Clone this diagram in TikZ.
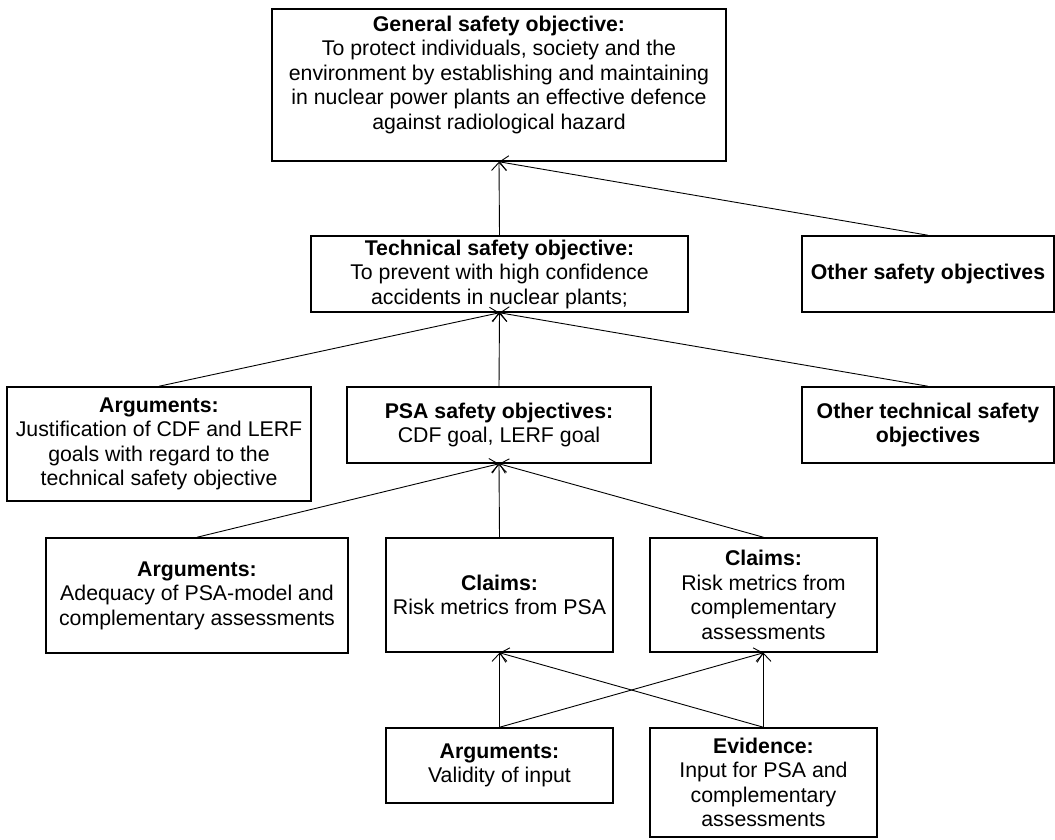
\documentclass[tikz,border=0pt]{standalone}
\usepackage{fontspec}
\setmainfont{Liberation Sans}
\usetikzlibrary{arrows.meta,positioning}
\tikzstyle{sb}=[draw=black,line width=1.5pt,align=center,inner sep=0pt,
  font=\fontsize{21.3pt}{24.5pt}\selectfont]
\tikzstyle{ar}=[line width=0.9pt,-{Straight Barb[length=8pt,width=15pt,line width=0.9pt]}]

\begin{document}
\begin{tikzpicture}[x=1pt,y=-1pt]
  \useasboundingbox (0,0) rectangle (1055,839);
     % objectives
     \node [sb, minimum width=454pt, minimum height=152pt] (gen) at (499,85)
       {\textbf{General safety objective:}\\To protect individuals, society and the\\environment by establishing and maintaining\\in nuclear power plants an effective defence\\against radiological hazard\\ ~};
     \node [sb, minimum width=377pt, minimum height=76pt] (tech) at (499.5,274)
       {\textbf{Technical safety objective:}\\To prevent with high confidence\\accidents in nuclear plants;};
     \node [sb, minimum width=252pt, minimum height=76pt] (oso) at (928,274)
       {\textbf{Other safety objectives}};
     \node [sb, minimum width=304pt, minimum height=114pt] (arg1) at (159,444)
       {\textbf{Arguments:}\\Justification of CDF and LERF\\goals with regard to the\\technical safety objective};
     \node [sb, minimum width=304pt, minimum height=76pt] (psa) at (499,425)
       {\textbf{PSA safety objectives:}\\CDF goal, LERF goal};
     \node [sb, minimum width=252pt, minimum height=76pt] (otso) at (928,425)
       {\textbf{Other technical safety}\\\textbf{objectives}};
     % claims
     \node [sb, minimum width=302pt, minimum height=115pt] (arg2) at (197,595.5)
       {\textbf{Arguments:}\\Adequacy of PSA-model and\\complementary assessments};
     \node [sb, minimum width=227pt, minimum height=114pt] (clpsa) at (499.5,595)
       {\textbf{Claims:}\\Risk metrics from PSA};
     \node [sb, minimum width=227pt, minimum height=114pt] (clcomp) at (763.5,595)
       {\textbf{Claims:}\\Risk metrics from\\complementary\\assessments};
     % input
     \node [sb, minimum width=227pt, minimum height=75pt] (val) at (499.5,765.5)
       {\textbf{Arguments:}\\Validity of input};
     \node [sb, minimum width=227pt, minimum height=109pt] (evid) at (763.5,782.5)
       {\textbf{Evidence:}\\Input for PSA and\\complementary\\assessments};

     \draw [ar] (tech.north) -- (gen.south);
     \draw [ar] (oso.north) -- (gen.south);
     \draw [ar] (arg1.north) -- (tech.south);
     \draw [ar] (psa.north) -- (tech.south);
     \draw [ar] (otso.north) -- (tech.south);
     \draw [ar] (arg2.north) -- (psa.south);
     \draw [ar] (clpsa.north) -- (psa.south);
     \draw [ar] (clcomp.north) -- (psa.south);
     \draw [ar] (val.north) -- (clpsa.south);
     \draw [ar] (val.north) -- (clcomp.south);
     \draw [ar] (evid.north) -- (clpsa.south);
     \draw [ar] (evid.north) -- (clcomp.south);
\end{tikzpicture}
\end{document}
